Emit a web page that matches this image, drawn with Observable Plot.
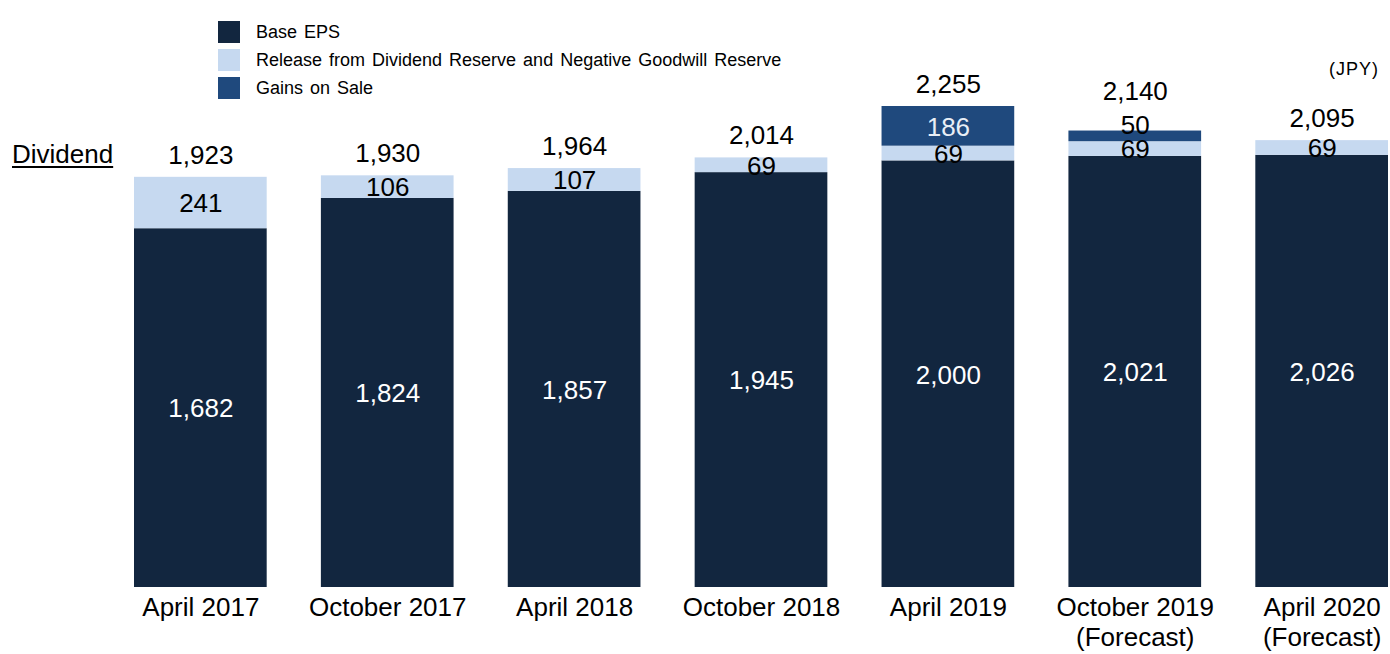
<!DOCTYPE html>
<html>
<head>
<meta charset="utf-8">
<script src="https://cdn.jsdelivr.net/npm/d3@7"></script>
<script src="https://cdn.jsdelivr.net/npm/@observablehq/plot@0.6"></script>
<style>
  html, body { margin: 0; padding: 0; background: #fff; }
  #wrap { position: relative; width: 1390px; height: 654px; font-family: "Liberation Sans", Arial, sans-serif; }
  #chart { position: absolute; left: 0; top: 0; }
  .legend { position: absolute; left: 218px; top: 18px; }
  .legend .item { display: flex; align-items: center; height: 28px; font-size: 18px; word-spacing: 2px; color: #000; }
  .legend .sw { width: 22px; height: 22px; margin-right: 16px; flex: none; }
  .dividend { position: absolute; left: 12px; top: 139px; font-size: 26px; text-decoration: underline; text-underline-offset: 3px; }
  .jpy { position: absolute; left: 1329px; top: 59px; font-size: 18px; letter-spacing: 1px; }
</style>
</head>
<body>
<div id="wrap">
  <div id="chart"></div>
  <div class="legend" id="legend"></div>
  <div class="dividend">Dividend</div>
  <div class="jpy">(JPY)</div>
</div>
<script>
const categories = ["April 2017", "October 2017", "April 2018", "October 2018", "April 2019", "October 2019\n(Forecast)", "April 2020\n(Forecast)"];
const baseEPS = [1682, 1824, 1857, 1945, 2000, 2021, 2026];
const releaseReserve = [241, 106, 107, 69, 69, 69, 69];
const gainsOnSale = [0, 0, 0, 0, 186, 50, 0];
const totals = [1923, 1930, 1964, 2014, 2255, 2140, 2095];
const seriesNames = ["Base EPS", "Release from Dividend Reserve and Negative Goodwill Reserve", "Gains on Sale"];
const seriesColors = ["#12263f", "#c6d9f0", "#1f497d"];

const fmt = d3.format(",");
const segs = [];
categories.forEach((c, i) => {
  const vals = [baseEPS[i], releaseReserve[i], gainsOnSale[i]];
  let acc = 0;
  vals.forEach((v, k) => {
    if (v > 0) {
      segs.push({cat: c, series: seriesNames[k], k, value: v, y1: acc, y2: acc + v, mid: acc + v / 2});
    }
    acc += v;
  });
});
const tots = categories.map((c, i) => ({cat: c, total: totals[i], small: gainsOnSale[i] > 0 && gainsOnSale[i] < 100}));

const labelFill = d => d.k === 0 ? "#fff" : (d.k === 2 && d.value >= 100 ? "#e8eef6" : "#000");

const chart = Plot.plot({
  width: 1390,
  height: 654,
  marginLeft: 134,
  marginRight: 2,
  marginTop: 106,
  marginBottom: 67,
  style: {fontFamily: "Liberation Sans, Arial, sans-serif", background: "#fff"},
  x: {domain: categories, paddingInner: 0.29, paddingOuter: 0, round: false, label: null},
  y: {domain: [0, 2255], axis: null},
  color: {domain: seriesNames, range: seriesColors},
  marks: [
    Plot.rectY(segs, {x: "cat", y1: "y1", y2: "y2", fill: "series"}),
    Plot.text(segs.filter(d => !(d.k === 2 && d.value < 100)), {x: "cat", y: "mid", text: d => fmt(d.value), fill: labelFill, fontSize: 26, dy: 1}),
    Plot.text(segs.filter(d => d.k === 2 && d.value < 100), {x: "cat", y: "mid", text: d => fmt(d.value), fill: "#000", fontSize: 26, dy: -11}),
    Plot.text(tots.filter(d => !d.small), {x: "cat", y: "total", text: d => fmt(d.total), fill: "#000", fontSize: 26, dy: -22}),
    Plot.text(tots.filter(d => d.small), {x: "cat", y: "total", text: d => fmt(d.total), fill: "#000", fontSize: 26, dy: -39}),
    Plot.axisX({tickSize: 0, tickPadding: 7, fontSize: 26, lineHeight: 1.15, label: null, fill: "#000"})
  ]
});
document.getElementById("chart").appendChild(chart);

const lg = document.getElementById("legend");
seriesNames.forEach((n, i) => {
  const it = document.createElement("div");
  it.className = "item";
  const sw = document.createElement("div");
  sw.className = "sw";
  sw.style.background = seriesColors[i];
  const t = document.createElement("span");
  t.textContent = n;
  it.appendChild(sw);
  it.appendChild(t);
  lg.appendChild(it);
});
</script>
</body>
</html>
